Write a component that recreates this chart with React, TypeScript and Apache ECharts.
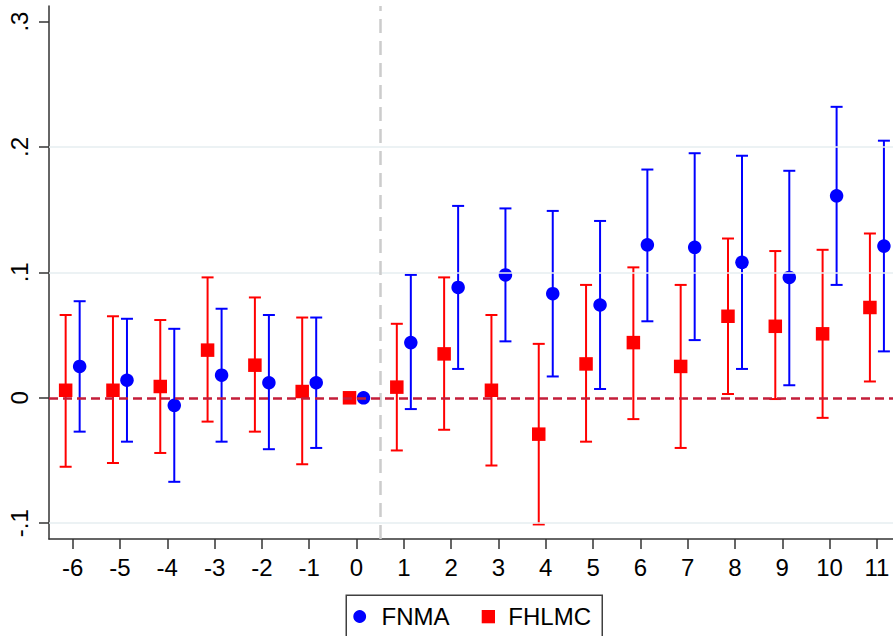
import React, { useEffect, useRef } from "react";
import * as echarts from "echarts";

const periods = [-6, -5, -4, -3, -2, -1, 0, 1, 2, 3, 4, 5, 6, 7, 8, 9, 10, 11];
const fnmaEst = [0.025, 0.014, -0.006, 0.018, 0.012, 0.012, 0, 0.044, 0.088, 0.098, 0.083, 0.074, 0.122, 0.12, 0.108, 0.096, 0.161, 0.121];
const fnmaLow = [-0.027, -0.035, -0.067, -0.035, -0.041, -0.04, null, -0.009, 0.023, 0.045, 0.017, 0.007, 0.061, 0.046, 0.023, 0.01, 0.09, 0.037];
const fnmaHigh = [0.077, 0.063, 0.055, 0.071, 0.066, 0.064, null, 0.098, 0.153, 0.151, 0.149, 0.141, 0.182, 0.195, 0.193, 0.181, 0.232, 0.205];
const fhlmcEst = [0.006, 0.006, 0.009, 0.038, 0.026, 0.005, 0, 0.0085, 0.035, 0.006, -0.029, 0.027, 0.044, 0.025, 0.065, 0.057, 0.051, 0.072];
const fhlmcLow = [-0.055, -0.052, -0.044, -0.019, -0.027, -0.053, null, -0.042, -0.0255, -0.054, -0.101, -0.035, -0.017, -0.04, 0.003, -0.001, -0.016, 0.013];
const fhlmcHigh = [0.066, 0.065, 0.062, 0.096, 0.08, 0.064, null, 0.059, 0.096, 0.066, 0.043, 0.09, 0.104, 0.09, 0.127, 0.117, 0.118, 0.131];
const yTicks = [-0.1, 0, 0.1, 0.2, 0.3];
const gridYs = [-0.1, 0.1, 0.2];
const seriesNames = ["FNMA", "FHLMC"];

const FONT = "'Liberation Sans', Arial, sans-serif";
const BLUE = "#0000FF";
const RED = "#FF0000";
const OFFSET = 0.148;

function errorBarSeries(name: string, offset: number, low: (number | null)[], high: (number | null)[], color: string) {
  const data: number[][] = [];
  periods.forEach((p, i) => {
    if (low[i] != null && high[i] != null) data.push([p + offset, low[i] as number, high[i] as number]);
  });
  return {
    type: "custom",
    name: name + " CI",
    z: 2,
    silent: true,
    encode: { x: 0, y: [1, 2] },
    data,
    renderItem: (params: any, api: any) => {
      const x = api.value(0);
      const lo = api.coord([x, api.value(1)]);
      const hi = api.coord([x, api.value(2)]);
      const half = 6;
      const style = { stroke: color, lineWidth: 2 };
      return {
        type: "group",
        children: [
          { type: "line", shape: { x1: lo[0], y1: lo[1], x2: hi[0], y2: hi[1] }, style },
          { type: "line", shape: { x1: hi[0] - half, y1: hi[1], x2: hi[0] + half, y2: hi[1] }, style },
          { type: "line", shape: { x1: lo[0] - half, y1: lo[1], x2: lo[0] + half, y2: lo[1] }, style },
        ],
      };
    },
  };
}

function fmtY(v: number) {
  const s = v.toFixed(1);
  if (s === "0.0" || s === "-0.0") return "0";
  return s.replace(/^(-?)0\./, "$1.");
}

export default function App() {
  const ref = useRef<HTMLDivElement>(null);
  useEffect(() => {
    document.body.style.margin = "0";
    if (!ref.current) return;
    const chart = echarts.init(ref.current, undefined, { renderer: "svg" });
    const option: any = {
      animation: false,
      backgroundColor: "#FFFFFF",
      textStyle: { fontFamily: FONT },
      grid: { left: 49, right: 0, top: 6, bottom: 97, containLabel: false },
      xAxis: {
        type: "value",
        min: -6.5,
        max: 11.34,
        splitLine: { show: false },
        axisLine: { show: true, onZero: false, lineStyle: { color: "#333333", width: 1.5 } },
        axisTick: { show: true, customValues: periods, length: 10, lineStyle: { color: "#333333", width: 1.5 } },
        axisLabel: { customValues: periods, fontSize: 24, color: "#000000", fontFamily: FONT, margin: 16 },
      },
      yAxis: {
        type: "value",
        min: -0.1126,
        max: 0.3124,
        splitLine: { show: false },
        axisLine: { show: true, onZero: false, lineStyle: { color: "#333333", width: 1.5 } },
        axisTick: { show: true, customValues: yTicks, length: 10, lineStyle: { color: "#333333", width: 1.5 } },
        axisLabel: { customValues: yTicks, fontSize: 24, color: "#000000", fontFamily: FONT, rotate: 90, margin: 18, formatter: fmtY },
      },
      series: [
        {
          type: "line",
          name: "lines",
          data: [],
          z: 1,
          silent: true,
          markLine: {
            silent: true,
            symbol: "none",
            label: { show: false },
            animation: false,
            data: [
              ...gridYs.map((g) => ({ yAxis: g, lineStyle: { color: "#E6EEF1", width: 1.5, type: "solid" } })),
              { xAxis: 0.5, lineStyle: { color: "#CCCCCC", width: 2.5, type: [14, 8] } },
              { yAxis: 0, lineStyle: { color: "#C41E3A", width: 2.5, type: [9, 5] } },
            ],
          },
        },
        errorBarSeries(seriesNames[0], OFFSET, fnmaLow, fnmaHigh, BLUE),
        errorBarSeries(seriesNames[1], -OFFSET, fhlmcLow, fhlmcHigh, RED),
        {
          type: "scatter",
          name: seriesNames[0],
          z: 3,
          symbol: "circle",
          symbolSize: 13.5,
          itemStyle: { color: BLUE, opacity: 1 },
          data: periods.map((p, i) => [p + OFFSET, fnmaEst[i]]),
        },
        {
          type: "scatter",
          name: seriesNames[1],
          z: 3,
          symbol: "rect",
          symbolSize: 13.5,
          itemStyle: { color: RED, opacity: 1 },
          data: periods.map((p, i) => [p - OFFSET, fhlmcEst[i]]),
        },
      ],
      graphic: [
        {
          type: "rect",
          left: 345.5,
          top: 594.5,
          shape: { width: 256, height: 60 },
          style: { fill: "#FFFFFF", stroke: "#404040", lineWidth: 1.5 },
          z: 10,
        },
        { type: "circle", shape: { cx: 359.7, cy: 616.5, r: 6.4 }, style: { fill: BLUE }, z: 11 },
        { type: "text", x: 381.5, y: 616.5, style: { text: seriesNames[0], font: `24px ${FONT}`, fill: "#000000", verticalAlign: "middle" }, z: 11 },
        { type: "rect", shape: { x: 481.7, y: 610, width: 13.3, height: 13.3 }, style: { fill: RED }, z: 11 },
        { type: "text", x: 508.3, y: 616.5, style: { text: seriesNames[1], font: `24px ${FONT}`, fill: "#000000", verticalAlign: "middle" }, z: 11 },
      ],
    };
    chart.setOption(option);
    return () => chart.dispose();
  }, []);
  return <div ref={ref} style={{ width: 893, height: 636 }} />;
}
